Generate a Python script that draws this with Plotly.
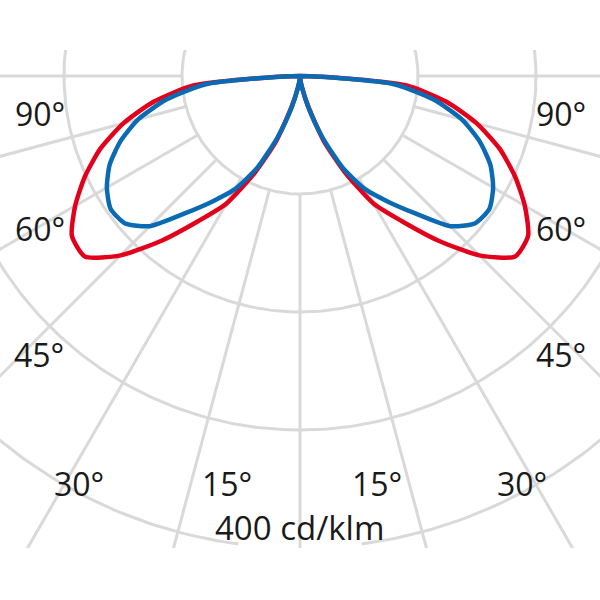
import numpy as np
import plotly.graph_objects as go

# light distribution, angle from nadir (deg) and intensity (cd/klm), one half (symmetric)
angles = [0, 5, 10, 15, 20, 25, 30, 35, 40, 45, 50, 55, 60, 65, 70, 75, 80, 85, 90]
red_cd = [0, 3, 10, 26, 58, 90, 125, 150, 182, 215, 238, 236, 220, 201, 180, 155, 126, 90, 0]
blue_cd = [0, 3, 10, 28, 55, 86, 111, 130, 152, 180, 194, 196, 189, 178, 162, 142, 115, 80, 0]

rings = [100, 200, 300, 400]
spokes = [-90, -75, -60, -45, -30, -15, 0, 15, 30, 45, 60, 75, 90]
angle_labels = ['90°', '60°', '45°', '30°', '15°', '15°', '30°', '45°', '60°', '90°']
unit_label = '400 cd/klm'

PX = 1.18  # pixels per cd/klm
CX, CY = 300, 76  # pole position on the page
TOP, BOT = 50, 548

grey = '#d9d9d9'
red = '#e2001a'
blue = '#0b6ab4'


def xy(theta_deg, r):
    t = np.radians(np.asarray(theta_deg, dtype=float))
    r = np.asarray(r, dtype=float)
    return r * np.sin(t), -r * np.cos(t)


def full(vals):
    th = [-a for a in angles[::-1]] + angles[1:]
    rr = vals[::-1] + vals[1:]
    return th, rr


fig = go.Figure()

# grid rings (outer ring is left open under the unit label)
for r in rings:
    seg = np.linspace(7.5, 352.5, 400) if r == rings[-1] else np.linspace(0, 360, 400)
    x, y = xy(seg, np.full(seg.shape, r))
    fig.add_trace(go.Scatter(x=x, y=y, mode='lines', line=dict(color=grey, width=3),
                             hoverinfo='skip', showlegend=False))

# grid spokes
for a in spokes:
    x, y = xy([a, a], [rings[0], 700])
    fig.add_trace(go.Scatter(x=x, y=y, mode='lines', line=dict(color=grey, width=3),
                             hoverinfo='skip', showlegend=False))

# curves
for vals, col in ((red_cd, red), (blue_cd, blue)):
    th, rr = full(vals)
    x, y = xy(th, rr)
    fig.add_trace(go.Scatter(x=x, y=y, mode='lines',
                             line=dict(color=col, width=4.5, shape='spline', smoothing=0.6),
                             hoverinfo='skip', showlegend=False))

# labels (page pixel positions)
label_pos = [(40, 113), (40, 228), (39, 354), (79, 483), (227, 483),
             (377, 483), (522, 483), (561, 354), (561, 228), (561, 113)]
for txt, (px, py) in zip(angle_labels, label_pos):
    fig.add_annotation(x=(px - CX) / PX, y=(CY - py) / PX, text=txt, showarrow=False,
                       xanchor='center', yanchor='middle',
                       font=dict(family='Open Sans', size=32, color='#1a1a1a'))
fig.add_annotation(x=0, y=(CY - 527) / PX, text=unit_label, showarrow=False,
                   xanchor='center', yanchor='middle',
                   font=dict(family='Open Sans', size=33, color='#1a1a1a'))

fig.update_layout(
    width=600, height=600,
    margin=dict(l=0, r=0, t=TOP, b=600 - BOT, pad=0),
    paper_bgcolor='white', plot_bgcolor='white',
    xaxis=dict(range=[-CX / PX, CX / PX], visible=False, fixedrange=True),
    yaxis=dict(range=[-(BOT - CY) / PX, (CY - TOP) / PX], visible=False, fixedrange=True),
)

fig.write_html("out.html", config={'displayModeBar': False},
               post_script="document.body.style.margin='0';")
